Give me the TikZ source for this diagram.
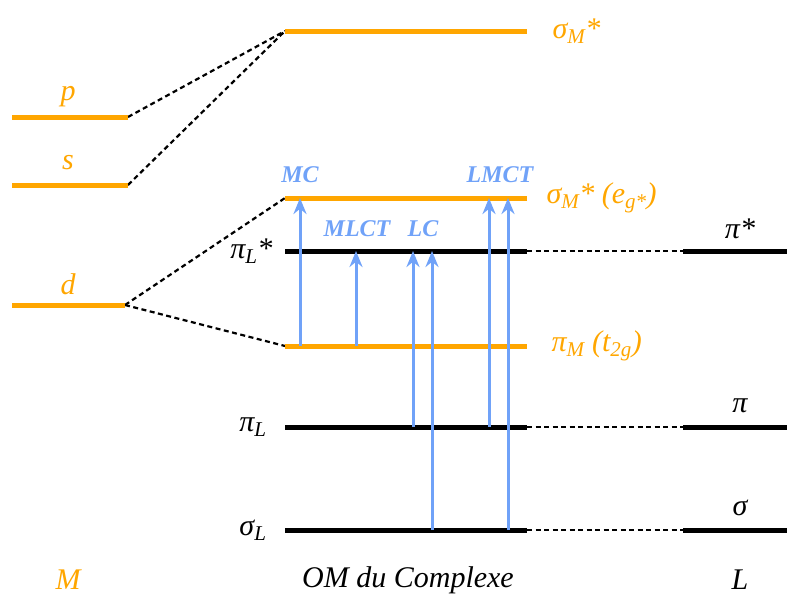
\documentclass[tikz,border=0pt]{standalone}
\usepackage{fontspec}
\setmainfont{Liberation Serif}
\usetikzlibrary{arrows.meta}
\definecolor{orng}{RGB}{255,166,0}
\definecolor{arrblue}{RGB}{112,162,248}
\newcommand{\sbs}[1]{\textsubscript{\fontsize{21}{24}\selectfont #1}}
\begin{document}
\begin{tikzpicture}[x=1pt,y=-1pt,
  olev/.style={draw=orng,line width=5pt},
  blev/.style={draw=black,line width=5pt},
  conn/.style={draw=black,line width=2.2pt,dash pattern=on 5pt off 3.5pt},
  trans/.style={draw=arrblue,line width=3pt,-{Stealth[length=16pt,width=13pt]}},
  olab/.style={text=orng,font=\fontsize{30}{34}\selectfont\itshape},
  klab/.style={text=black,font=\fontsize{30}{34}\selectfont\itshape},
  tlab/.style={text=arrblue,font=\fontsize{24}{28}\selectfont\bfseries\itshape}]
\useasboundingbox (0,0) rectangle (787,597);
% metal levels
\coordinate (p1) at (12,117); \coordinate (p2) at (128,117);
\coordinate (s1) at (12,185); \coordinate (s2) at (128,185);
\coordinate (d1) at (12,305); \coordinate (d2) at (125,305);
% complex levels
\coordinate (sm1) at (285,31); \coordinate (sm2) at (527,31);
\coordinate (eg1) at (285,198); \coordinate (eg2) at (527,198);
\coordinate (pl1) at (285,251); \coordinate (pl2) at (527,251);
\coordinate (tg1) at (285,346); \coordinate (tg2) at (527,346);
\coordinate (pi1) at (285,427); \coordinate (pi2) at (527,427);
\coordinate (sl1) at (285,530); \coordinate (sl2) at (527,530);
% ligand levels
\coordinate (lps1) at (683,251); \coordinate (lps2) at (787,251);
\coordinate (lp1) at (683,427); \coordinate (lp2) at (787,427);
\coordinate (ls1) at (683,530); \coordinate (ls2) at (787,530);
% dashed correlations
\draw[conn] (p2) -- (sm1);
\draw[conn] (s2) -- (sm1);
\draw[conn] (d2) -- (eg1);
\draw[conn] (d2) -- (tg1);
\draw[conn] (pl2) -- (lps1);
\draw[conn] (pi2) -- (lp1);
\draw[conn] (sl2) -- (ls1);
% levels
\draw[olev] (p1) -- (p2);
\draw[olev] (s1) -- (s2);
\draw[olev] (d1) -- (d2);
\draw[olev] (sm1) -- (sm2);
\draw[olev] (eg1) -- (eg2);
\draw[olev] (tg1) -- (tg2);
\draw[blev] (pl1) -- (pl2);
\draw[blev] (pi1) -- (pi2);
\draw[blev] (sl1) -- (sl2);
\draw[blev] (lps1) -- (lps2);
\draw[blev] (lp1) -- (lp2);
\draw[blev] (ls1) -- (ls2);
% transitions
\coordinate (a1s) at (300,346); \coordinate (a1e) at (300,198);
\coordinate (a2s) at (356,346); \coordinate (a2e) at (356,251);
\coordinate (a3s) at (413,427); \coordinate (a3e) at (413,251);
\coordinate (a4s) at (432,530); \coordinate (a4e) at (432,251);
\coordinate (a5s) at (489,427); \coordinate (a5e) at (489,198);
\coordinate (a6s) at (508,530); \coordinate (a6e) at (508,198);
\draw[trans] (a1s) -- (a1e);
\draw[trans] (a2s) -- (a2e);
\draw[trans] (a3s) -- (a3e);
\draw[trans] (a4s) -- (a4e);
\draw[trans] (a5s) -- (a5e);
\draw[trans] (a6s) -- (a6e);
% labels
\node[olab] (lp) at (68,97) {p};
\node[olab] (ls) at (68,163) {s};
\node[olab] (ld) at (68,284) {d};
\node[olab,anchor=west] (lsm) at (549,31) {σ\sbs{M}*};
\node[olab,anchor=west] (leg) at (543,198) {σ\sbs{M}* (e\sbs{g*})};
\node[olab,anchor=west] (ltg) at (548,346) {π\sbs{M} (t\sbs{2g})};
\node[klab,anchor=east] (lpl) at (276,251) {π\sbs{L}*};
\node[klab,anchor=east] (lpi) at (270,427) {π\sbs{L}};
\node[klab,anchor=east] (lsl) at (270,530) {σ\sbs{L}};
\node[klab] (lps) at (740,229) {π*};
\node[klab] (lpp) at (740,406) {π};
\node[klab] (lss) at (740,508) {σ};
\node[tlab] (tmc) at (300,175) {MC};
\node[tlab] (tmlct) at (357,229) {MLCT};
\node[tlab] (tlc) at (423,229) {LC};
\node[tlab] (tlmct) at (500,175) {LMCT};
\node[olab] (lM) at (68,580) {M};
\node[klab] (lOM) at (408,580) {OM du Complexe};
\node[klab] (lL) at (740,580) {L};
\end{tikzpicture}
\end{document}
